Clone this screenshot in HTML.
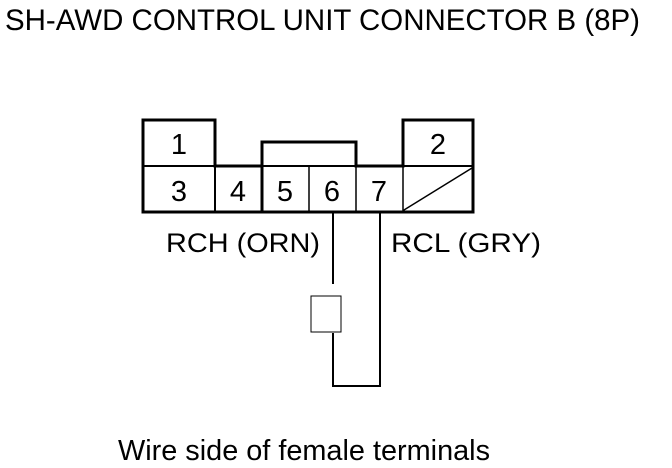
<!DOCTYPE html>
<html><head><style>
html,body{margin:0;padding:0;background:#fff;}
svg{display:block;}
text{font-family:"Liberation Sans",Arial,sans-serif;fill:#000;}
</style></head><body>
<svg width="672" height="468" viewBox="0 0 672 468" xmlns="http://www.w3.org/2000/svg">
<text x="5" y="30" font-size="30" textLength="635" lengthAdjust="spacingAndGlyphs">SH-AWD CONTROL UNIT CONNECTOR B (8P)</text>
<g fill="none" stroke="#000" stroke-linecap="square">
  <path d="M143,212 L143,120 L215,120 L215,166 L262,166 L262,142 L356,142 L356,166 L403,166 L403,120 L473,120 L473,212 Z" stroke-width="3"/>
  <line x1="143" y1="166" x2="215" y2="166" stroke-width="2"/>
  <line x1="403" y1="166" x2="473" y2="166" stroke-width="2"/>
  <line x1="262" y1="166" x2="356" y2="166" stroke-width="2"/>
  <line x1="215" y1="166" x2="215" y2="212" stroke-width="2"/>
  <line x1="262" y1="166" x2="262" y2="212" stroke-width="3"/>
  <line x1="309" y1="166" x2="309" y2="212" stroke-width="1.5"/>
  <line x1="356" y1="166" x2="356" y2="212" stroke-width="1.5"/>
  <line x1="403" y1="166" x2="403" y2="212" stroke-width="1.5"/>
  <line x1="404" y1="210" x2="472" y2="168" stroke-width="1.5"/>
  <line x1="333" y1="212" x2="333" y2="283" stroke-width="2"/>
  <path d="M333,334 L333,386 L380,386 L380,212" stroke-width="2"/>
  <rect x="311" y="296" width="30" height="36" stroke-width="1"/>
</g>
<g font-size="29" text-anchor="middle">
  <text x="179" y="154">1</text>
  <text x="438" y="154">2</text>
  <text x="179" y="201">3</text>
  <text x="238" y="201">4</text>
  <text x="285" y="201">5</text>
  <text x="332" y="201">6</text>
  <text x="379" y="201">7</text>
</g>
<text x="166" y="252" font-size="27" textLength="154" lengthAdjust="spacingAndGlyphs">RCH (ORN)</text>
<text x="391" y="252" font-size="27" textLength="150" lengthAdjust="spacingAndGlyphs">RCL (GRY)</text>
<text x="118" y="460" font-size="29" textLength="372" lengthAdjust="spacingAndGlyphs">Wire side of female terminals</text>
</svg>
</body></html>
